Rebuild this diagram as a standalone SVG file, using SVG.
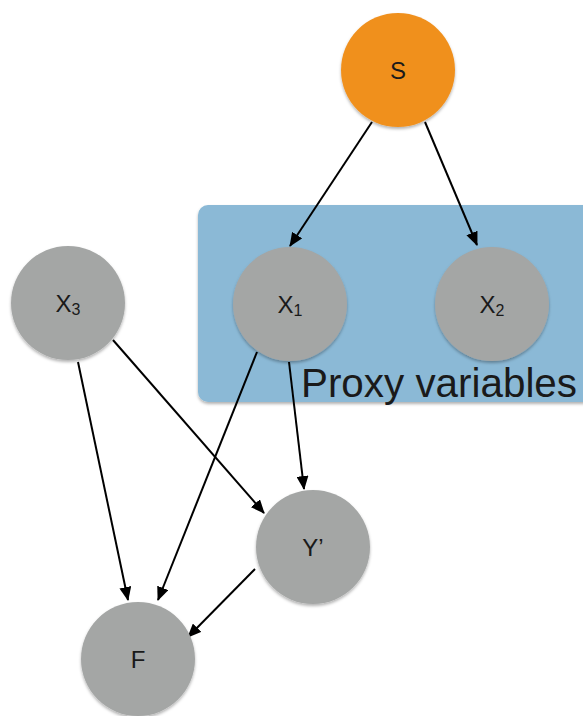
<svg xmlns="http://www.w3.org/2000/svg" width="583" height="716" viewBox="0 0 583 716">
<defs>
<style>
.node{fill:#a4a6a5;filter:url(#sh)}
.lbl{font-family:"Liberation Sans",Arial,sans-serif;font-size:24px;fill:#1a1a1a;text-anchor:middle}
.sub{font-size:16px}
.edge{stroke:#000;stroke-width:2;fill:none;marker-end:url(#arr)}
</style>
<filter id="sh" x="-20%" y="-20%" width="140%" height="140%">
<feDropShadow dx="0" dy="2" stdDeviation="1.5" flood-color="#000" flood-opacity="0.3"/>
</filter>
<marker id="arr" markerWidth="14" markerHeight="12" refX="13" refY="6" orient="auto" markerUnits="userSpaceOnUse">
<path d="M0,0 L14,6 L0,12 Z" fill="#000"/>
</marker>
</defs>
<rect width="583" height="716" fill="#fff"/>
<g id="proxy-box">
<rect x="198" y="205" width="395" height="197" rx="10" fill="#8bb9d6" filter="url(#sh)"/>
<text x="439" y="397" font-family="'Liberation Sans',Arial,sans-serif" font-size="40" fill="#1a1a1a" text-anchor="middle" textLength="276" lengthAdjust="spacingAndGlyphs">Proxy variables</text>
</g>
<g id="edges">
<line class="edge" x1="372" y1="122" x2="290" y2="246"/>
<line class="edge" x1="425" y1="122" x2="477" y2="245"/>
<line class="edge" x1="289" y1="362" x2="304" y2="489"/>
<line class="edge" x1="257" y1="352" x2="158" y2="600"/>
<line class="edge" x1="78" y1="362" x2="128" y2="600"/>
<line class="edge" x1="113" y1="340" x2="264" y2="513"/>
<line class="edge" x1="255" y1="569" x2="188" y2="637"/>
</g>
<g id="S">
<circle cx="398" cy="70" r="57" fill="#f0901e" filter="url(#sh)"/>
<text class="lbl" x="398" y="79">S</text>
</g>
<g id="X1">
<circle class="node" cx="290" cy="304" r="57"/>
<text class="lbl" x="290" y="313">X<tspan class="sub" dy="3">1</tspan></text>
</g>
<g id="X2">
<circle class="node" cx="492" cy="304" r="57"/>
<text class="lbl" x="492" y="313">X<tspan class="sub" dy="3">2</tspan></text>
</g>
<g id="X3">
<circle class="node" cx="68" cy="303" r="57"/>
<text class="lbl" x="68" y="312">X<tspan class="sub" dy="3">3</tspan></text>
</g>
<g id="Y">
<circle class="node" cx="313" cy="547" r="57"/>
<text class="lbl" x="313" y="556">Y’</text>
</g>
<g id="F">
<circle class="node" cx="138" cy="659" r="57"/>
<text class="lbl" x="138" y="668">F</text>
</g>
</svg>
